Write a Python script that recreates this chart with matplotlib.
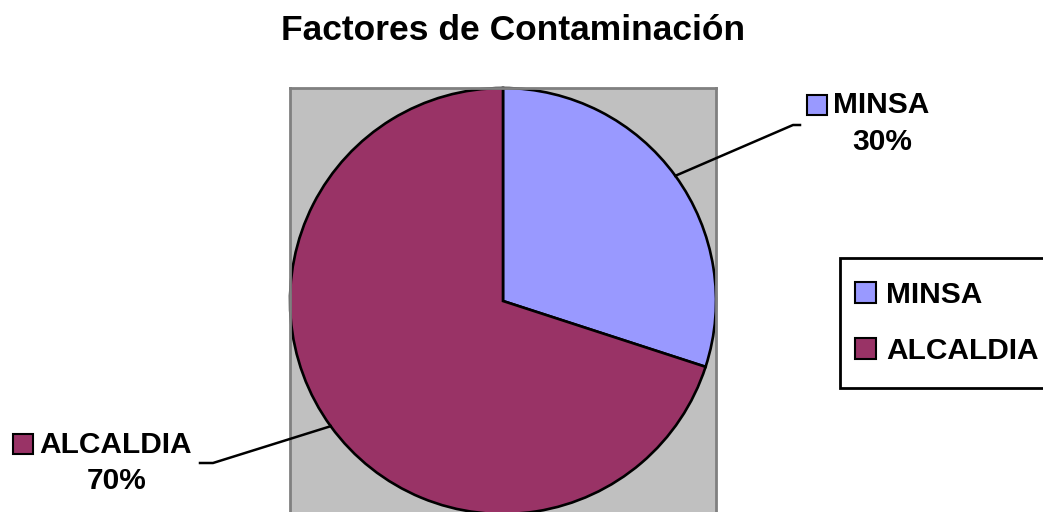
import numpy as np
import matplotlib
matplotlib.use("Agg")
import matplotlib.pyplot as plt
from matplotlib.lines import Line2D
from matplotlib.patches import Rectangle

title = "Factores de Contaminación"
categories = ["MINSA", "ALCALDIA"]
values = [30, 70]
colors = ["#9999FF", "#993366"]

W, H = 1043, 512
plt.rcParams['font.family'] = ['Liberation Sans', 'DejaVu Sans']
fig = plt.figure(figsize=(W / 100, H / 100), dpi=100)

def fx(px):
    return px / W

def fy(py):
    return 1 - py / H

# plot area (square) 290..716 x 88..514
ax = fig.add_axes([fx(290), fy(514), fx(426), 426 / H])
ax.set_facecolor("#C0C0C0")
wedges, _ = ax.pie(values, colors=colors, startangle=90, counterclock=False,
                   radius=1, frame=True,
                   wedgeprops=dict(edgecolor="black", linewidth=1.9))
ax.set_xlim(-1, 1)
ax.set_ylim(-1, 1)
ax.set_xticks([])
ax.set_yticks([])
for s in ax.spines.values():
    s.set_color("#808080")
    s.set_linewidth(2)

fig.text(0.5 * (273 + 753) / W, fy(31), title, ha="center", va="center",
         fontsize=25.5, fontweight="bold")

fs = 21.5
# data labels with leader lines
label_layout = {
    "MINSA": dict(corner=(793, 125), end=(800, 125), sq=(807, 95), txt=(881, 105), pct=(882, 142)),
    "ALCALDIA": dict(corner=(213, 463), end=(200, 463), sq=(13, 434), txt=(116, 445), pct=(117, 481)),
}
fig.canvas.draw()
for w, cat, val, col in zip(wedges, categories, values, colors):
    mid = np.deg2rad(0.5 * (w.theta1 + w.theta2))
    ex, ey = ax.transData.transform((np.cos(mid), np.sin(mid)))
    L = label_layout[cat]
    xs = [fx(ex), fx(L["corner"][0]), fx(L["end"][0])]
    ys = [ey / H, fy(L["corner"][1]), fy(L["end"][1])]
    fig.add_artist(Line2D(xs, ys, color="black", linewidth=1.8, transform=fig.transFigure))
    sx, sy = L["sq"]
    fig.add_artist(Rectangle((fx(sx), fy(sy + 20)), fx(20), 20 / H, facecolor=col,
                             edgecolor="black", linewidth=1.5, transform=fig.transFigure))
    fig.text(fx(L["txt"][0]), fy(L["txt"][1]), cat, ha="center", va="center",
             fontsize=fs, fontweight="bold")
    fig.text(fx(L["pct"][0]), fy(L["pct"][1]), f"{val}%", ha="center", va="center",
             fontsize=fs, fontweight="bold")

# legend box (extends past right edge as in the original)
fig.add_artist(Rectangle((fx(840), fy(388)), fx(220), 130 / H, facecolor="white",
                         edgecolor="black", linewidth=2, transform=fig.transFigure))
handles = [Rectangle((0, 0), 1, 1, facecolor=c, edgecolor="black", linewidth=1.5) for c in colors]
leg = fig.legend(handles, categories, loc="upper left",
                 bbox_to_anchor=(fx(840), fy(266)), bbox_transform=fig.transFigure,
                 borderaxespad=0, borderpad=0.5, frameon=False,
                 handlelength=0.7, handleheight=0.7,
                 handletextpad=0.35, labelspacing=0.95,
                 prop=dict(size=fs, weight="bold"))

fig.savefig("out.png", dpi=100)
